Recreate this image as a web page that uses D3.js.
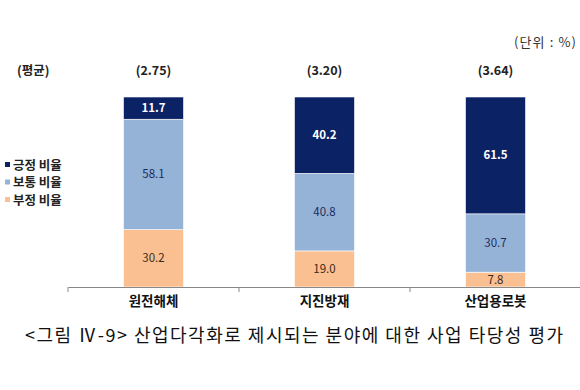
<!DOCTYPE html>
<html>
<head>
<meta charset="utf-8">
<script src="https://cdn.jsdelivr.net/npm/d3@7"></script>
<style>
  body { margin: 0; background: #fff; }
  svg text { font-family: "Noto Sans CJK KR", "Noto Sans", sans-serif; }
</style>
</head>
<body>
<svg width="580" height="390"></svg>
<script>
// stacked 100% bars: 부정 (bottom), 보통, 긍정 (top)
var categories = ["원전해체", "지진방재", "산업용로봇"];
var averages = ["(2.75)", "(3.20)", "(3.64)"];
var negative = [30.2, 19.0, 7.8];
var neutral = [58.1, 40.8, 30.7];
var positive = [11.7, 40.2, 61.5];
var seriesNames = ["긍정 비율", "보통 비율", "부정 비율"];
var colors = { neg: "#fac091", neu: "#95b3d7", pos: "#0b2265" };

var svg = d3.select("svg");

var x = d3.scaleBand().domain(categories).range([68, 581]).paddingInner(0).paddingOuter(0);
var y = d3.scaleLinear().domain([0, 100]).range([287, 97]);
var bw = 60;

var data = categories.map((c, i) => ({
  cat: c, avg: averages[i],
  segs: [
    { key: "neg", v: negative[i], y0: 0, y1: negative[i], fill: colors.neg, tc: "#3a2a1a" },
    { key: "neu", v: neutral[i], y0: negative[i], y1: negative[i] + neutral[i], fill: colors.neu, tc: "#1c2c5c" },
    { key: "pos", v: positive[i], y0: negative[i] + neutral[i], y1: 100, fill: colors.pos, tc: "#ffffff" }
  ]
}));

var g = svg.selectAll("g.bar").data(data).enter().append("g").attr("class", "bar");

g.selectAll("rect").data(d => d.segs.map(s => Object.assign({ cat: d.cat }, s)))
  .enter().append("rect")
  .attr("x", d => x(d.cat) + x.bandwidth() / 2 - bw / 2)
  .attr("width", bw)
  .attr("y", d => y(d.y1))
  .attr("height", d => y(d.y0) - y(d.y1))
  .attr("fill", d => d.fill)
  .attr("stroke", "#fff")
  .attr("stroke-width", 0.6);

g.selectAll("text.val").data(d => d.segs.map(s => Object.assign({ cat: d.cat }, s)))
  .enter().append("text")
  .attr("class", "val")
  .attr("x", d => x(d.cat) + x.bandwidth() / 2)
  .attr("y", d => (y(d.y0) + y(d.y1)) / 2 + 4)
  .attr("text-anchor", "middle")
  .attr("font-size", 11.5)
  .attr("font-weight", d => d.key == "pos" ? "bold" : "normal")
  .attr("fill", d => d.tc)
  .text(d => d.v.toFixed(1));

// averages above bars
g.append("text")
  .attr("x", d => x(d.cat) + x.bandwidth() / 2)
  .attr("y", 75)
  .attr("text-anchor", "middle")
  .attr("font-size", 12.5)
  .attr("font-weight", "bold")
  .attr("fill", "#222")
  .text(d => d.avg);

svg.append("text").attr("x", 17).attr("y", 75)
  .attr("font-size", 12.5).attr("font-weight", "bold").attr("fill", "#222")
  .text("(평균)");

svg.append("text").attr("x", 576).attr("y", 47).attr("text-anchor", "end")
  .attr("font-size", 13).attr("fill", "#333")
  .attr("textLength", 62).attr("lengthAdjust", "spacing")
  .text("(단위 : %)");

// x axis
var xAxis = d3.axisBottom(x).tickSize(0).tickFormat("");
svg.append("g").attr("transform", "translate(0,287)").call(xAxis)
  .call(a => a.select(".domain").attr("stroke", "#888"));
svg.selectAll("line.sep").data(x.domain().map(c => x(c)).concat([x.range()[1]]))
  .enter().append("line").attr("class", "sep")
  .attr("x1", d => d).attr("x2", d => d).attr("y1", 287).attr("y2", 292)
  .attr("stroke", "#888");

svg.selectAll("text.cat").data(categories).enter().append("text")
  .attr("class", "cat")
  .attr("x", d => x(d) + x.bandwidth() / 2)
  .attr("y", 306)
  .attr("text-anchor", "middle")
  .attr("font-size", 13.5)
  .attr("font-weight", "bold")
  .attr("fill", "#111")
  .text(d => d);

// legend
var legColors = [colors.pos, colors.neu, colors.neg];
var leg = svg.selectAll("g.leg").data(seriesNames).enter().append("g")
  .attr("class", "leg")
  .attr("transform", (d, i) => "translate(5," + (165 + i * 17.5) + ")");
leg.append("rect").attr("x", 0).attr("y", -3).attr("width", 5).attr("height", 5)
  .attr("fill", (d, i) => legColors[i]);
leg.append("text").attr("x", 8).attr("y", 4.5)
  .attr("font-size", 12.5).attr("font-weight", "bold").attr("fill", "#222")
  .text(d => d);

// caption
svg.append("text").attr("x", 25).attr("y", 342)
  .attr("font-size", 18).attr("fill", "#111")
  .attr("textLength", 538).attr("lengthAdjust", "spacing")
  .text("<그림 Ⅳ-9> 산업다각화로 제시되는 분야에 대한 사업 타당성 평가");
</script>
</body>
</html>
